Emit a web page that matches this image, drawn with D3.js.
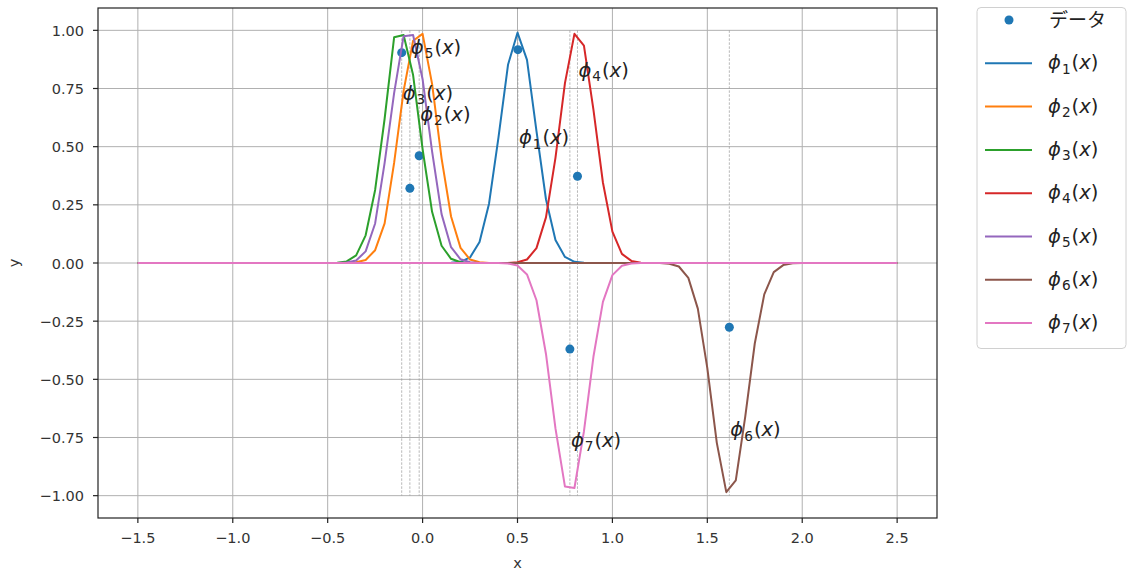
<html>
<head>
<meta charset="utf-8">
<style>
  body { margin: 0; background: white; }
</style>
</head>
<body>
<svg width="1136" height="579"></svg>
<script src="https://d3js.org/d3.v7.min.js"></script>
<script>
// sample points of the curves
var xs = [-1.5,-1.45,-1.4,-1.35,-1.3,-1.25,-1.2,-1.15,-1.1,-1.05,
  -1,-0.95,-0.9,-0.85,-0.8,-0.75,-0.7,-0.65,-0.6,-0.55,
  -0.5,-0.45,-0.4,-0.35,-0.3,-0.25,-0.2,-0.15,-0.1,-0.05,
  0,0.05,0.1,0.15,0.2,0.25,0.3,0.35,0.4,0.45,
  0.5,0.55,0.6,0.65,0.7,0.75,0.8,0.85,0.9,0.95,
  1,1.05,1.1,1.15,1.2,1.25,1.3,1.35,1.4,1.45,
  1.5,1.55,1.6,1.65,1.7,1.75,1.8,1.85,1.9,1.95,
  2,2.05,2.1,2.15,2.2,2.25,2.3,2.35,2.4,2.45,
  2.5];

var phi1 = [0,0,0,0,0,0,0,0,0,0, 0,0,0,0,0,0,0,0,0,0, 0,0,0,0,0,0,0,0,0,0,
  0,0,0,0.001,0.005,0.024,0.090,0.255,0.541,0.852,
  0.990,0.873,0.567,0.274,0.099,0.026,0.005,0.001,0,0,
  0,0,0,0,0,0,0,0,0,0, 0,0,0,0,0,0,0,0,0,0, 0,0,0,0,0,0,0,0,0,0, 0];
var phi2 = [0,0,0,0,0,0,0,0,0,0, 0,0,0,0,0,0,0,0,0,0,
  0,0,0,0.003,0.013,0.055,0.170,0.430,0.740,0.955,
  0.985,0.770,0.450,0.200,0.065,0.015,0.003,0,0,0,
  0,0,0,0,0,0,0,0,0,0, 0,0,0,0,0,0,0,0,0,0, 0,0,0,0,0,0,0,0,0,0, 0,0,0,0,0,0,0,0,0,0, 0];
var phi3 = [0,0,0,0,0,0,0,0,0,0, 0,0,0,0,0,0,0,0,0,0,
  0,0.001,0.007,0.033,0.119,0.314,0.620,0.970,0.980,0.808,
  0.489,0.220,0.074,0.018,0.003,0,0,0,0,0,
  0,0,0,0,0,0,0,0,0,0, 0,0,0,0,0,0,0,0,0,0, 0,0,0,0,0,0,0,0,0,0, 0,0,0,0,0,0,0,0,0,0, 0];
var phi4 = [0,0,0,0,0,0,0,0,0,0, 0,0,0,0,0,0,0,0,0,0, 0,0,0,0,0,0,0,0,0,0, 0,0,0,0,0,0,0,0,0,0,
  0.003,0.015,0.064,0.196,0.452,0.773,0.985,0.934,0.659,0.346,
  0.135,0.039,0.009,0.001,0,0,0,0,0,0,
  0,0,0,0,0,0,0,0,0,0, 0,0,0,0,0,0,0,0,0,0, 0];
var phi5 = [0,0,0,0,0,0,0,0,0,0, 0,0,0,0,0,0,0,0,0,0,
  0,0,0.002,0.011,0.050,0.170,0.430,0.730,0.975,0.980,
  0.790,0.480,0.210,0.068,0.016,0.003,0,0,0,0,
  0,0,0,0,0,0,0,0,0,0, 0,0,0,0,0,0,0,0,0,0, 0,0,0,0,0,0,0,0,0,0, 0,0,0,0,0,0,0,0,0,0, 0];
var phi6 = [0,0,0,0,0,0,0,0,0,0, 0,0,0,0,0,0,0,0,0,0, 0,0,0,0,0,0,0,0,0,0, 0,0,0,0,0,0,0,0,0,0, 0,0,0,0,0,0,0,0,0,0,
  0,0,0,0,0,0,-0.003,-0.015,-0.064,-0.196,
  -0.452,-0.773,-0.985,-0.934,-0.659,-0.346,-0.135,-0.039,-0.009,-0.001,
  0,0,0,0,0,0,0,0,0,0, 0];
var phi7 = [0,0,0,0,0,0,0,0,0,0, 0,0,0,0,0,0,0,0,0,0, 0,0,0,0,0,0,0,0,0,0,
  0,0,0,0,0,0,0,0,0,-0.002,
  -0.011,-0.049,-0.160,-0.391,-0.711,-0.961,-0.967,-0.724,-0.403,-0.167,
  -0.052,-0.012,-0.002,0,0,0,0,0,0,0,
  0,0,0,0,0,0,0,0,0,0, 0,0,0,0,0,0,0,0,0,0, 0];

// scattered data (one per curve)
var dataX = [0.502, -0.018, -0.110, 0.816, -0.067, 1.616, 0.776];
var dataY = [0.917, 0.461, 0.904, 0.373, 0.321, -0.276, -0.370];

// where the curve names are written
var labelX = [0.502, -0.018, -0.110, 0.816, -0.067, 1.616, 0.776];
var labelY = [0.51, 0.61, 0.70, 0.80, 0.90, -0.745, -0.79];

var xTicks = [-1.5, -1.0, -0.5, 0.0, 0.5, 1.0, 1.5, 2.0, 2.5];
var yTicks = [-1.00, -0.75, -0.50, -0.25, 0.00, 0.25, 0.50, 0.75, 1.00];
var dataName = 'データ';

var curves = [phi1, phi2, phi3, phi4, phi5, phi6, phi7];
var colors = ['#1f77b4','#ff7f0e','#2ca02c','#d62728','#9467bd','#8c564b','#e377c2'];

var pLeft = 98, pRight = 937, pTop = 8, pBottom = 518;
var x = d3.scaleLinear().domain([-1.71, 2.71]).range([pLeft, pRight]);
var y = d3.scaleLinear().domain([-1.096, 1.096]).range([pBottom, pTop]);

var svg = d3.select('svg');
var tickFont = "'DejaVu Sans', sans-serif";
var jpFont = "'Noto Sans CJK JP', sans-serif";
var mathFont = "'DejaVu Sans', sans-serif";

// grid
svg.append('g').selectAll('line').data(xTicks).enter().append('line')
  .attr('x1', function(d){ return x(d); }).attr('x2', function(d){ return x(d); })
  .attr('y1', pTop).attr('y2', pBottom)
  .attr('stroke', '#b0b0b0').attr('stroke-width', 1);
svg.append('g').selectAll('line').data(yTicks).enter().append('line')
  .attr('x1', pLeft).attr('x2', pRight)
  .attr('y1', function(d){ return y(d); }).attr('y2', function(d){ return y(d); })
  .attr('stroke', '#b0b0b0').attr('stroke-width', 1);

// dashed verticals at the data x
svg.append('g').selectAll('line').data(dataX).enter().append('line')
  .attr('x1', function(d){ return x(d); }).attr('x2', function(d){ return x(d); })
  .attr('y1', y(1)).attr('y2', y(-1))
  .attr('stroke', '#999').attr('stroke-width', 0.7)
  .attr('stroke-dasharray', '2.5,1.5');

// scatter
svg.append('g').selectAll('circle').data(dataX).enter().append('circle')
  .attr('cx', function(d){ return x(d); })
  .attr('cy', function(d, i){ return y(dataY[i]); })
  .attr('r', 4.5).attr('fill', colors[0]);

// curves
var line = d3.line().x(function(d, i){ return x(xs[i]); }).y(function(d){ return y(d); });
svg.append('g').selectAll('path').data(curves).enter().append('path')
  .attr('d', line).attr('fill', 'none')
  .attr('stroke', function(d, i){ return colors[i]; })
  .attr('stroke-width', 2).attr('stroke-linejoin', 'round');

function phiText(t, k, size) {
  t.append('tspan').attr('font-style', 'italic').text('ϕ');
  t.append('tspan').attr('font-size', size * 0.7).attr('dy', size * 0.22).attr('dx', 1).text(k);
  t.append('tspan').attr('dy', -size * 0.22).attr('dx', 1).text('(');
  t.append('tspan').attr('font-style', 'italic').text('x');
  t.append('tspan').text(')');
}

// curve names
for (var i = 0; i < curves.length; i++) {
  var t = svg.append('text')
    .attr('x', x(labelX[i]) + 1).attr('y', y(labelY[i]))
    .attr('font-family', mathFont).attr('font-size', 19.5).attr('fill', '#222');
  phiText(t, i + 1, 19.5);
}

// frame
svg.append('rect').attr('x', pLeft).attr('y', pTop)
  .attr('width', pRight - pLeft).attr('height', pBottom - pTop)
  .attr('fill', 'none').attr('stroke', '#222').attr('stroke-width', 1.2);

// x axis
var xa = svg.append('g').selectAll('g').data(xTicks).enter().append('g');
xa.append('line').attr('x1', function(d){ return x(d); }).attr('x2', function(d){ return x(d); })
  .attr('y1', pBottom).attr('y2', pBottom + 5).attr('stroke', '#222').attr('stroke-width', 1.2);
xa.append('text').attr('x', function(d){ return x(d); }).attr('y', pBottom + 25)
  .attr('text-anchor', 'middle').attr('font-family', tickFont).attr('font-size', 14.5).attr('fill', '#333')
  .text(function(d){ return d3.format('.1f')(d).replace('-', '\u2212'); });
svg.append('text').attr('x', (pLeft + pRight) / 2).attr('y', 568)
  .attr('text-anchor', 'middle').attr('font-family', tickFont).attr('font-size', 14.5).attr('fill', '#333').text('x');

// y axis
var ya = svg.append('g').selectAll('g').data(yTicks).enter().append('g');
ya.append('line').attr('x1', pLeft - 5).attr('x2', pLeft)
  .attr('y1', function(d){ return y(d); }).attr('y2', function(d){ return y(d); })
  .attr('stroke', '#222').attr('stroke-width', 1.2);
ya.append('text').attr('x', pLeft - 14).attr('y', function(d){ return y(d) + 5.5; })
  .attr('text-anchor', 'end').attr('font-family', tickFont).attr('font-size', 14.5).attr('fill', '#333')
  .text(function(d){ return d3.format('.2f')(d).replace('-', '\u2212'); });
svg.append('text').attr('transform', 'translate(19,' + (y(0)) + ') rotate(-90)')
  .attr('text-anchor', 'middle').attr('font-family', tickFont).attr('font-size', 14.5).attr('fill', '#333').text('y');

// legend
var step = 43.3;
svg.append('rect').attr('x', 977).attr('y', 7.5).attr('width', 149).attr('height', 341)
  .attr('rx', 4).attr('fill', 'white').attr('fill-opacity', 0.8)
  .attr('stroke', '#d0d0d0').attr('stroke-width', 1);
svg.append('circle').attr('cx', 1009).attr('cy', 20).attr('r', 4.5).attr('fill', colors[0]);
svg.append('text').attr('x', 1049).attr('y', 27).attr('font-family', jpFont)
  .attr('font-size', 19).attr('fill', '#222').text(dataName);
for (var j = 0; j < curves.length; j++) {
  var cy = 20 + (j + 1) * step;
  svg.append('line').attr('x1', 985).attr('x2', 1032).attr('y1', cy).attr('y2', cy)
    .attr('stroke', colors[j]).attr('stroke-width', 2);
  var lt = svg.append('text').attr('x', 1048).attr('y', cy + 6)
    .attr('font-family', mathFont).attr('font-size', 19.5).attr('fill', '#222');
  phiText(lt, j + 1, 19.5);
}
</script>
</body>
</html>
